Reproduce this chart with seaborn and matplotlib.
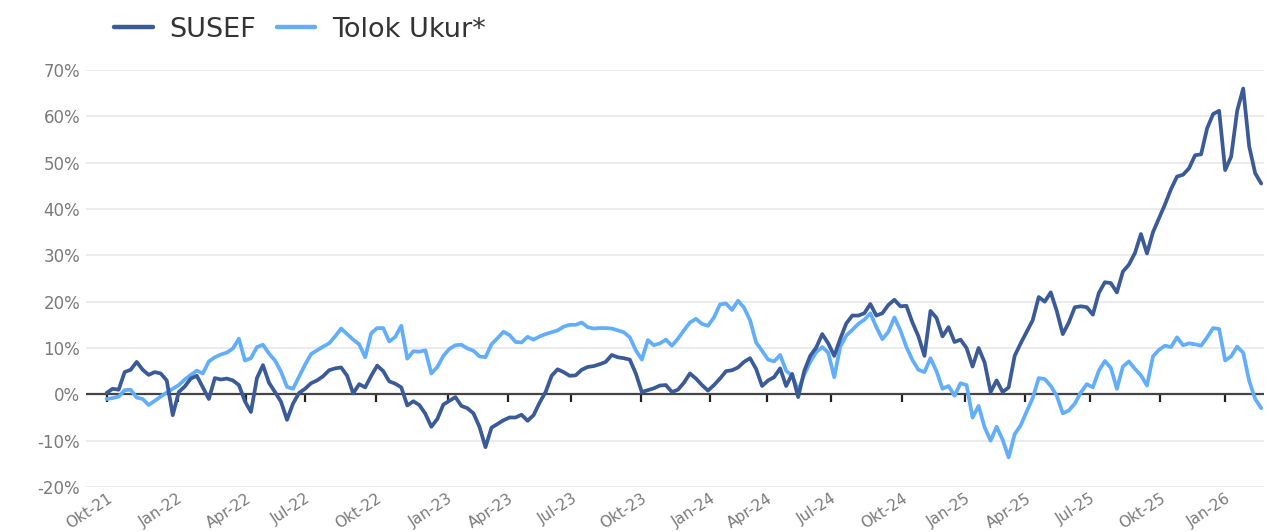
import numpy as np
import pandas as pd
import seaborn as sns
import matplotlib.pyplot as plt

# cumulative return (%), roughly every 6 px (~1.5 weeks)
susef = [0.3, 1.2, 1.0, 4.8, 5.3, 7.0, 5.3, 4.2, 4.8, 4.5,
         3.0, -4.5, 0.5, 1.7, 3.4, 4.0, 1.5, -1.0, 3.5, 3.2,
         3.4, 3.0, 2.0, -1.5, -3.8, 3.5, 6.3, 2.5, 0.5, -1.6,
         -5.5, -2.0, 0.3, 1.2, 2.4, 3.0, 3.9, 5.2, 5.6, 5.8,
         4.0, 0.2, 2.2, 1.5, 4.0, 6.2, 5.0, 2.8, 2.3, 1.5,
         -2.4, -1.5, -2.3, -4.2, -7.0, -5.3, -2.2, -1.4, -0.6, -2.5,
         -3.0, -4.1, -7.0, -11.4, -7.2, -6.4, -5.6, -5.0, -5.0, -4.4,
         -5.7, -4.5, -1.8, 0.5, 4.0, 5.4, 4.8, 4.0, 4.1, 5.3,
         5.9, 6.1, 6.5, 7.0, 8.5, 8.0, 7.8, 7.5, 4.5, 0.5,
         0.9, 1.3, 1.9, 2.0, 0.5, 1.0, 2.5, 4.5, 3.4, 2.0,
         0.8, 2.0, 3.4, 5.0, 5.2, 5.8, 7.0, 7.8, 5.5, 1.8,
         3.0, 3.7, 5.6, 1.8, 4.4, -0.6, 5.0, 8.3, 10.1, 13.0,
         11.0, 8.3, 12.0, 15.3, 17.0, 17.0, 17.5, 19.5, 17.0, 17.5,
         19.3, 20.4, 19.0, 19.1, 15.5, 12.5, 8.3, 18.0, 16.5, 12.5,
         14.5, 11.3, 11.8, 10.0, 6.0, 10.0, 6.9, 0.5, 3.0, 0.5,
         1.5, 8.3, 11.0, 13.5, 16.0, 21.0, 20.0, 22.0, 18.0, 13.0,
         15.5, 18.8, 19.0, 18.8, 17.2, 21.9, 24.2, 24.0, 22.0, 26.5,
         28.0, 30.5, 34.6, 30.4, 35.0, 38.0, 41.0, 44.3, 47.0, 47.4,
         48.8, 51.6, 51.8, 57.4, 60.5, 61.2, 48.4, 51.3, 61.2, 66.0,
         53.5, 47.7, 45.5]

tolok = [-1.0, -0.8, -0.5, 0.9, 1.0, -0.7, -1.0, -2.3, -1.4, -0.5,
         0.4, 1.2, 2.0, 3.2, 4.2, 5.1, 4.5, 7.1, 8.0, 8.6,
         9.0, 9.9, 12.0, 7.3, 7.8, 10.2, 10.7, 8.8, 7.3, 4.9,
         1.6, 1.2, 3.8, 6.4, 8.7, 9.5, 10.3, 11.0, 12.5, 14.2,
         13.0, 11.8, 10.8, 8.0, 13.2, 14.3, 14.3, 11.4, 12.4, 14.8,
         7.7, 9.3, 9.2, 9.5, 4.5, 5.9, 8.3, 9.8, 10.6, 10.7,
         9.9, 9.4, 8.2, 8.0, 10.8, 12.1, 13.5, 12.8, 11.3, 11.2,
         12.4, 11.8, 12.5, 13.0, 13.4, 13.8, 14.6, 15.0, 15.0, 15.5,
         14.5, 14.2, 14.3, 14.3, 14.2, 13.8, 13.4, 12.3, 9.5, 7.5,
         11.7, 10.6, 11.0, 11.8, 10.5, 12.0, 13.8, 15.5, 16.3, 15.2,
         14.8, 16.6, 19.4, 19.6, 18.2, 20.2, 18.7, 16.0, 11.2, 9.4,
         7.5, 7.1, 8.5, 5.1, 4.0, 0.8, 4.2, 7.0, 9.1, 10.2,
         9.0, 3.7, 10.3, 12.7, 13.9, 15.2, 16.1, 17.5, 14.5, 11.9,
         13.5, 16.6, 13.8, 10.2, 7.4, 5.3, 4.8, 7.8, 5.0, 1.2,
         1.8, -0.3, 2.4, 2.0, -5.0, -2.5, -7.1, -10.0, -7.0, -9.8,
         -13.6, -8.6, -6.7, -3.7, -0.8, 3.5, 3.3, 1.8, -0.3, -4.1,
         -3.5, -2.0, 0.4, 2.2, 1.5, 5.1, 7.2, 5.7, 1.2, 6.0,
         7.1, 5.5, 4.1, 1.9, 8.2, 9.6, 10.5, 10.2, 12.3, 10.6,
         11.0, 10.8, 10.5, 12.3, 14.3, 14.1, 7.3, 8.2, 10.3, 9.0,
         2.9, -1.0, -3.0]

# quarter labels and where they fall on the (trading-day based) sample axis
tick_labels = ['Okt-21', 'Jan-22', 'Apr-22', 'Jul-22', 'Okt-22', 'Jan-23',
               'Apr-23', 'Jul-23', 'Okt-23', 'Jan-24', 'Apr-24', 'Jul-24',
               'Okt-24', 'Jan-25', 'Apr-25', 'Jul-25', 'Okt-25', 'Jan-26']
tick_pos = [0, 11.8, 23.2, 33, 44.8, 56.7, 66.7, 77.3, 88.8, 100.3,
            109.8, 120.5, 132.3, 142.8, 152.8, 163.5, 175.2, 186]

y_ticks = list(range(-20, 71, 10))

dark = '#3a5a98'
light = '#63aefb'

sns.set_style('white')
plt.rcParams['font.family'] = ['DejaVu Sans']

df = pd.DataFrame({'t': np.arange(len(susef)), 'SUSEF': susef, 'Tolok Ukur*': tolok})

fig = plt.figure(figsize=(12.77, 5.32), dpi=100)
ax = fig.add_axes([0.067, 0.0846, 0.923, 0.7838])

for y in y_ticks:
    if y != 0:
        ax.axhline(y, color='#e6e6e6', lw=1.1, zorder=0)
ax.axhline(0, color='#444444', lw=1.6, zorder=1)

sns.lineplot(data=df, x='t', y='Tolok Ukur*', color=light, lw=2.7, ax=ax, zorder=3)
sns.lineplot(data=df, x='t', y='SUSEF', color=dark, lw=2.7, ax=ax, zorder=4)

ax.set_xlim(-3.5, 192.5)
ax.set_ylim(-20, 70)
ax.set_xlabel('')
ax.set_ylabel('')
for s in ax.spines.values():
    s.set_visible(False)

ax.set_yticks(y_ticks, [f'{v}%' for v in y_ticks])
ax.tick_params(axis='y', length=0, pad=4, labelsize=12, labelcolor='#7a7a7a')

ax.set_xticks(tick_pos)
ax.set_xticklabels(tick_labels, rotation=33, ha='right', va='top', rotation_mode='anchor')
ax.tick_params(axis='x', length=0, pad=3, labelsize=11, labelcolor='#7a7a7a')

# little tick marks hanging under the zero line
zero_ax = ax.secondary_xaxis(0, transform=ax.transData)
zero_ax.set_xticks(tick_pos)
zero_ax.tick_params(axis='x', direction='out', length=6, width=1.6, color='#222222',
                    labelbottom=False)
for s in zero_ax.spines.values():
    s.set_visible(False)

handles = [plt.Line2D([], [], color=dark, lw=3.2),
           plt.Line2D([], [], color=light, lw=3.2)]
fig.legend(handles, ['SUSEF', 'Tolok Ukur*'], loc='center left',
           bbox_to_anchor=(0.081, 0.944), ncol=2, frameon=False, fontsize=19.5,
           handlelength=1.42, handletextpad=0.62, columnspacing=0.75,
           borderaxespad=0, labelcolor='#333333')

fig.savefig('out.png', dpi=100)
